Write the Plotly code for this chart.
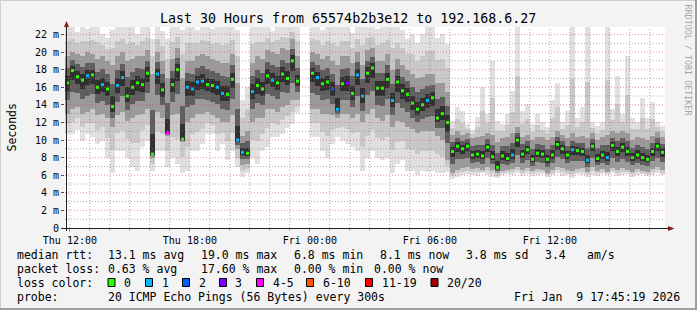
import plotly.graph_objects as go

# ---------------- data ----------------
title_text = "Last 30 Hours from 65574b2b3e12 to 192.168.6.27"
start_hour = 11 + 45 / 60 + 19 / 3600      # Thu 11:45:19, hours since Thu 00:00
span_hours = 30
step_hours = 0.25                            # one column = 15 minutes

median = [16.5, 17.9, 17.2, 16.8, 17.3, 17.4, 16.0, 16.3, 15.8, 13.8,
          16.2, 17.1, 15.0, 16.0, 16.5, 16.3, 17.6, 8.4, 17.5, 15.7,
          10.8, 16.3, 18.0, 10.1, 16.0, 15.8, 16.6, 16.7, 16.3, 16.2,
          16.0, 15.3, 15.2, 16.9, 10.0, 8.6, 8.5, 15.5, 16.2, 15.8,
          17.3, 16.8, 16.5, 17.5, 17.0, 19.0, 16.7, None, None, 17.6,
          17.1, 16.4, 16.6, 15.8, 13.5, 16.4, 16.5, 15.3, 17.4, 15.0,
          17.6, 18.2, 15.9, 15.9, 16.9, 14.5, 16.6, 15.6, 15.2, 14.2,
          13.5, 14.0, 14.5, 14.8, 12.5, 13.0, 12.0, 8.7, 9.3, 9.0,
          9.3, 8.3, 8.4, 8.2, 9.2, 8.1, 6.9, 8.2, 7.9, 8.3,
          10.0, 8.4, 8.9, 7.8, 8.5, 8.4, 7.8, 8.3, 9.5, 9.0,
          8.3, 8.9, 8.8, 8.7, 7.7, 9.3, 7.9, 8.3, 8.0, 9.4,
          8.7, 9.2, 8.7, 8.0, 8.3, 8.0, 7.8, 8.7, 9.3, 8.6]

loss = [0, 0, 0, 0, 1, 0, 0, 1, 0, 0,
        1, 1, 0, 0, 0, 0, 0, 0, 1, 0,
        4, 0, 0, 0, 1, 1, 1, 1, 0, 0,
        1, 1, 0, 0, 1, 1, 0, 1, 0, 0,
        0, 1, 0, 0, 0, 0, 0, 0, 0, 0,
        1, 0, 0, 2, 1, 0, 3, 0, 1, 1,
        0, 0, 0, 0, 0, 1, 0, 0, 0, 0,
        0, 0, 1, 0, 0, 0, 0, 0, 0, 0,
        0, 0, 0, 0, 0, 0, 0, 0, 0, 1,
        0, 0, 0, 0, 0, 0, 0, 0, 0, 0,
        0, 1, 0, 0, 1, 0, 0, 0, 1, 0,
        0, 0, 0, 0, 0, 0, 0, 0, 0, 0]

smoke_min = [10.7, 10.7, 11.1, 9.9, 10.7, 10.3, 9.5, 9.9, 8.0, 6.2,
             8.8, 8.8, 8.0, 6.9, 6.5, 9.2, 9.9, 6.5, 8.8, 8.8,
             6.9, 8.0, 7.3, 6.3, 6.5, 8.8, 8.8, 9.5, 10.7, 10.7,
             8.8, 9.5, 7.7, 8.8, 6.9, 5.8, 6.2, 8.0, 7.3, 8.8,
             9.2, 10.3, 10.3, 10.7, 11.4, 11.8, 13.1, None, None, 10.3,
             10.3, 8.8, 8.0, 9.5, 10.3, 9.9, 9.5, 9.2, 8.8, 6.5,
             8.0, 8.8, 8.0, 7.7, 8.0, 6.2, 7.3, 7.7, 6.5, 6.5,
             6.0, 6.5, 6.4, 6.5, 6.3, 6.2, 6.4, 5.6, 5.8, 6.0,
             6.1, 6.0, 5.9, 6.2, 6.0, 5.8, 5.7, 6.0, 6.1, 6.0,
             6.2, 5.9, 6.1, 5.9, 6.0, 6.1, 5.8, 6.0, 6.2, 5.9,
             6.0, 5.7, 6.1, 6.0, 5.8, 6.0, 5.9, 6.1, 6.0, 6.2,
             5.9, 6.0, 6.1, 5.8, 6.0, 6.1, 5.9, 6.0, 6.2, 6.0]

smoke_lo = [13.0, 13.5, 13.8, 13.0, 13.2, 13.5, 12.8, 13.0, 12.5, 11.5,
            12.8, 13.2, 12.2, 12.5, 12.8, 13.0, 13.5, 8.0, 13.2, 12.5,
            10.5, 12.8, 13.0, 9.8, 12.0, 12.5, 13.0, 13.0, 13.2, 12.8,
            12.5, 12.0, 12.0, 12.8, 9.0, 7.2, 7.3, 12.0, 12.5, 12.5,
            13.5, 13.5, 13.2, 13.8, 14.0, 14.5, 14.5, None, None, 13.5,
            13.5, 13.0, 13.0, 12.8, 12.5, 13.0, 13.0, 12.5, 13.0, 12.0,
            13.0, 13.5, 12.5, 12.2, 12.8, 11.5, 12.2, 12.0, 11.5, 11.2,
            10.8, 11.0, 11.0, 11.0, 10.5, 10.0, 7.7, 6.2, 6.6, 6.8,
            6.9, 6.7, 6.8, 6.6, 6.9, 6.6, 6.2, 6.5, 6.6, 6.7,
            6.9, 6.6, 6.8, 6.5, 6.7, 6.6, 6.3, 6.6, 6.9, 6.8,
            6.6, 6.5, 6.7, 6.8, 6.4, 6.9, 6.5, 6.7, 6.4, 6.8,
            6.6, 6.8, 6.6, 6.4, 6.7, 6.5, 6.4, 6.7, 6.9, 6.6]

smoke_hi = [19.5, 20.0, 19.8, 19.5, 20.0, 19.8, 19.2, 19.5, 19.0, 18.5,
            19.5, 20.0, 19.0, 19.2, 19.5, 19.5, 20.2, 17.5, 20.0, 19.0,
            17.0, 19.2, 20.5, 17.0, 19.0, 19.0, 19.5, 19.8, 19.5, 19.2,
            19.0, 18.8, 18.8, 19.8, 16.5, 10.5, 11.0, 18.8, 19.5, 19.2,
            20.2, 20.0, 19.8, 20.5, 20.2, 21.5, 19.5, None, None, 20.0,
            19.8, 19.2, 19.5, 19.0, 18.5, 19.5, 19.5, 18.8, 20.0, 18.5,
            20.2, 20.5, 19.0, 19.0, 19.8, 18.0, 19.2, 18.5, 18.0, 17.5,
            17.0, 17.2, 17.5, 17.5, 16.5, 16.5, 15.5, 10.6, 11.0, 10.6,
            10.8, 10.2, 10.3, 10.5, 10.8, 10.6, 9.8, 10.2, 10.4, 10.8,
            11.5, 10.4, 10.6, 10.0, 10.4, 10.3, 10.0, 10.4, 11.0, 10.6,
            10.2, 10.8, 10.4, 10.5, 10.2, 10.8, 10.0, 10.3, 10.6, 11.0,
            10.8, 11.0, 10.8, 10.0, 10.4, 10.2, 10.0, 10.5, 10.9, 10.4]

smoke_max = [23.0, 23.0, 22.3, 23.0, 22.6, 23.0, 23.0, 22.0, 21.6, 22.5,
             23.0, 23.0, 22.8, 23.0, 22.0, 23.0, 23.0, 21.5, 23.0, 22.4,
             21.5, 23.0, 23.0, 22.5, 23.0, 23.0, 22.5, 23.0, 23.0, 22.6,
             23.0, 22.8, 23.0, 23.0, 22.5, 14.5, 16.0, 23.0, 22.8, 23.0,
             23.0, 22.4, 23.0, 23.0, 23.0, 23.0, 23.0, None, None, 23.0,
             23.0, 22.5, 23.0, 23.0, 22.8, 23.0, 23.0, 22.2, 23.0, 23.0,
             23.0, 23.0, 22.6, 23.0, 23.0, 23.0, 22.8, 22.5, 21.5, 22.0,
             21.0, 22.0, 22.8, 23.0, 21.6, 22.0, 20.9, 12.2, 13.7, 13.3,
             11.8, 11.1, 12.6, 16.0, 13.0, 19.0, 12.2, 11.8, 13.0, 15.6,
             23.0, 13.3, 14.1, 11.8, 13.0, 12.0, 11.5, 14.5, 16.5, 12.0,
             13.3, 23.0, 12.5, 13.7, 23.0, 12.0, 11.6, 12.0, 23.0, 13.5,
             17.3, 13.0, 19.5, 12.5, 12.0, 14.8, 12.5, 14.3, 12.0, 11.6]

x_tick_vals = [12, 18, 24, 30, 36]
x_tick_text = ["Thu 12:00", "Thu 18:00", "Fri 00:00", "Fri 06:00", "Fri 12:00"]
y_tick_vals = [0, 2, 4, 6, 8, 10, 12, 14, 16, 18, 20, 22]
y_tick_text = ["0", "2 m", "4 m", "6 m", "8 m", "10 m", "12 m", "14 m",
               "16 m", "18 m", "20 m", "22 m"]

loss_labels = ["0", "1", "2", "3", "4-5", "6-10", "11-19", "20/20"]
loss_colors = ["#26ff00", "#00b8ff", "#0059ff", "#7e00ff", "#ff00ff",
               "#ff5500", "#ff0000", "#a10000"]

stats_median = ["13.1 ms avg", "19.0 ms max", "6.8 ms min", "8.1 ms now",
                "3.8 ms sd", "3.4", "am/s"]
stats_loss = ["0.63 % avg", "17.60 % max", "0.00 % min", "0.00 % now"]
probe_text = "20 ICMP Echo Pings (56 Bytes) every 300s"
stamp_text = "Fri Jan\u00a0 9 17:45:19 2026"

# ---------------- layout geometry (pixels) ----------------
W, H = 697, 310
L, R, T, B = 65, 32, 27, 82
PW, PH = W - L - R, H - T - B
Y_TOP = 22.85
FONT = "DejaVu Sans Mono"


def fx(p):
    return (p - L) / PW


def fy(p):
    return (H - B - p) / PH


n = len(median)
xs = [start_hour + step_hours * (i + 0.5) for i in range(n)]


def mix(a, b, t):
    if a is None or b is None:
        return None
    return a + (b - a) * t


def band(lo_list, hi_list):
    base, height = [], []
    for a, b in zip(lo_list, hi_list):
        if a is None or b is None:
            base.append(None)
            height.append(None)
        else:
            base.append(a)
            height.append(max(b - a, 0))
    return base, height


# shading levels of the smoke, from outermost (light) to the median (dark)
levels = [
    (smoke_min, smoke_max, "#e0e0e0"),
    ([mix(a, b, 0.5) for a, b in zip(smoke_min, smoke_lo)],
     [mix(a, b, 0.5) for a, b in zip(smoke_max, smoke_hi)], "#c8c8c8"),
    (smoke_lo, smoke_hi, "#9a9a9a"),
    ([mix(a, m, 0.45) for a, m in zip(smoke_lo, median)],
     [mix(a, m, 0.45) for a, m in zip(smoke_hi, median)], "#5e5e5e"),
    ([mix(a, m, 0.75) for a, m in zip(smoke_lo, median)],
     [mix(a, m, 0.75) for a, m in zip(smoke_hi, median)], "#303030"),
]

fig = go.Figure()
for lo_l, hi_l, col in levels:
    b, h = band(lo_l, hi_l)
    fig.add_trace(go.Bar(x=xs, y=h, base=b, width=step_hours,
                         marker=dict(color=col, line=dict(width=0)),
                         hoverinfo="skip", showlegend=False))

fig.add_trace(go.Scatter(
    x=[x for x, m in zip(xs, median) if m is not None],
    y=[m for m in median if m is not None],
    mode="markers",
    marker=dict(symbol="square", size=3,
                color=[loss_colors[c] for c, m in zip(loss, median) if m is not None],
                line=dict(width=0)),
    hoverinfo="skip", showlegend=False))

shapes = []
MAJ = "rgba(222,79,79,0.6)"
MIN = "rgba(143,143,143,0.75)"
h0 = int(start_hour) + 1
for h in range(h0, int(start_hour + span_hours) + 1):
    shapes.append(dict(type="line", xref="x", yref="paper", x0=h, x1=h, y0=0, y1=1,
                       layer="above",
                       line=dict(color=MAJ if h % 3 == 0 else MIN, width=1, dash="1px,2px")))
for v in range(1, 23):
    shapes.append(dict(type="line", xref="paper", yref="y", x0=0, x1=1, y0=v, y1=v,
                       layer="above",
                       line=dict(color=MAJ if v % 2 == 0 else MIN, width=1, dash="1px,2px")))

# axes lines and arrows
AX = "#1f1f1f"
ARROW = "#7f1f1f"
shapes.append(dict(type="line", xref="paper", yref="paper", x0=fx(62), x1=fx(670),
                   y0=fy(228.5), y1=fy(228.5), layer="above", line=dict(color=AX, width=1)))
shapes.append(dict(type="line", xref="paper", yref="paper", x0=fx(66.5), x1=fx(66.5),
                   y0=fy(231), y1=fy(24), layer="above", line=dict(color=AX, width=1)))
shapes.append(dict(type="path", xref="paper", yref="paper", layer="above",
                   path=f"M {fx(668)} {fy(226)} L {fx(674.5)} {fy(228.5)} L {fx(668)} {fy(231)} Z",
                   fillcolor=ARROW, line=dict(color=ARROW, width=0)))
shapes.append(dict(type="path", xref="paper", yref="paper", layer="above",
                   path=f"M {fx(64)} {fy(27)} L {fx(66.5)} {fy(21)} L {fx(69)} {fy(27)} Z",
                   fillcolor=ARROW, line=dict(color=ARROW, width=0)))

# frame shading
shapes.append(dict(type="line", xref="paper", yref="paper", x0=fx(0), x1=fx(W),
                   y0=fy(0.5), y1=fy(0.5), line=dict(color="#cfcfcf", width=1)))
shapes.append(dict(type="line", xref="paper", yref="paper", x0=fx(0.5), x1=fx(0.5),
                   y0=fy(0), y1=fy(H), line=dict(color="#cfcfcf", width=1)))
shapes.append(dict(type="line", xref="paper", yref="paper", x0=fx(0), x1=fx(W),
                   y0=fy(H - 1), y1=fy(H - 1), line=dict(color="#9e9e9e", width=2)))
shapes.append(dict(type="line", xref="paper", yref="paper", x0=fx(W - 1), x1=fx(W - 1),
                   y0=fy(0), y1=fy(H), line=dict(color="#9e9e9e", width=2)))

annotations = []


def txt(x, y, s, size=11.5, color="black", anchor="left", angle=0):
    annotations.append(dict(xref="paper", yref="paper", x=fx(x), y=fy(y), text=s,
                            showarrow=False, xanchor=anchor, yanchor="middle",
                            textangle=angle, borderpad=0,
                            font=dict(family=FONT, size=size, color=color)))


txt(347.5, 18.5, title_text, size=13.3, anchor="center")
txt(11, 127.5, "Seconds", size=11.5, anchor="center", angle=-90)
txt(687.5, 60, "RRDTOOL / TOBI OETIKER", size=8.4, color="#a6a6a6", anchor="center", angle=90)

row_y = [255, 269, 283, 297]
txt(16, row_y[0], "median rtt:")
for xp, s in zip([107, 200, 293, 379, 465, 544, 586], stats_median):
    txt(xp, row_y[0], s)
txt(16, row_y[1], "packet loss:")
for xp, s in zip([107, 200, 293, 372.7], stats_loss):
    txt(xp, row_y[1], s)
txt(16, row_y[2], "loss color:")
box_x = [108, 145.5, 182.5, 219.5, 256.5, 306.5, 365.5, 431]
for bx, lab, col in zip(box_x, loss_labels, loss_colors):
    shapes.append(dict(type="rect", xref="paper", yref="paper",
                       x0=fx(bx), x1=fx(bx + 7), y0=fy(278.5), y1=fy(286.5),
                       fillcolor=col, line=dict(color="black", width=1)))
    txt(bx + 15, row_y[2], lab)
txt(16, row_y[3], "probe:")
txt(107, row_y[3], probe_text)
txt(513, row_y[3], stamp_text)

fig.update_layout(
    width=W, height=H, autosize=False,
    margin=dict(l=L, r=R, t=T, b=B, pad=0),
    paper_bgcolor="#f3f3f3", plot_bgcolor="#ffffff",
    barmode="overlay", bargap=0,
    shapes=shapes, annotations=annotations,
    font=dict(family=FONT, size=10, color="black"),
    xaxis=dict(range=[start_hour, start_hour + span_hours], showgrid=False,
               zeroline=False, showline=False,
               tickmode="array", tickvals=x_tick_vals, ticktext=x_tick_text,
               ticks="outside", ticklen=3, tickcolor=MAJ, tickwidth=1,
               tickfont=dict(family=FONT, size=10, color="black"),
               minor=dict(ticks="outside", ticklen=2, tickcolor=MIN, dtick=1, tick0=0,
                          showgrid=False)),
    yaxis=dict(range=[0, Y_TOP], showgrid=False, zeroline=False, showline=False,
               tickmode="array", tickvals=y_tick_vals, ticktext=y_tick_text,
               ticks="outside", ticklen=3, tickcolor="#555555", tickwidth=1,
               tickfont=dict(family=FONT, size=10, color="black")),
)

fig.write_html("out.html", config={"displayModeBar": False})
